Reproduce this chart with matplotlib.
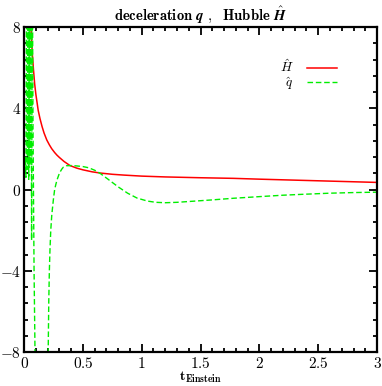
import matplotlib
matplotlib.use("Agg")
import matplotlib.pyplot as plt
from matplotlib.ticker import MultipleLocator, FixedLocator, FixedFormatter

plt.rcParams['mathtext.fontset'] = 'cm'
plt.rcParams['font.family'] = 'serif'
plt.rcParams['font.serif'] = ['DejaVu Serif']

# Hubble H-hat (red)
t_H = [0.055, 0.06, 0.07, 0.08, 0.09, 0.1, 0.11, 0.12, 0.135, 0.153, 0.17, 0.193,
       0.215, 0.235, 0.26, 0.28, 0.3, 0.34, 0.39, 0.45, 0.5, 0.58, 0.65, 0.75, 0.85,
       1.0, 1.2, 1.5, 1.78, 2.0, 2.25, 2.5, 2.75, 3.0]
H = [8.6, 7.8, 6.7, 5.9, 5.2, 4.7, 4.3, 3.9, 3.5, 3.1, 2.78, 2.44,
     2.2, 2.01, 1.82, 1.69, 1.58, 1.38, 1.18, 1.05, 0.97, 0.87, 0.81, 0.75, 0.71,
     0.66, 0.62, 0.58, 0.55, 0.51, 0.47, 0.43, 0.39, 0.35]

# deceleration q-hat (green, dashed)
t_q = [0.0, 0.008, 0.016, 0.022, 0.028, 0.034, 0.04, 0.046, 0.052, 0.058,
       0.064, 0.07, 0.076, 0.085, 0.095, 0.1, 0.13, 0.18, 0.2, 0.205, 0.21,
       0.215, 0.22, 0.227, 0.235, 0.24, 0.25, 0.26, 0.27, 0.28, 0.3, 0.32,
       0.334, 0.36, 0.4, 0.45, 0.5, 0.55, 0.6, 0.65, 0.72, 0.8, 0.88, 0.96,
       1.05, 1.12, 1.2, 1.3, 1.4, 1.6, 1.78, 2.0, 2.2, 2.35, 2.6, 2.8, 3.0]
q = [0.9, 1.6, 0.6, 12.0, 1.0, 12.0, 0.5, 12.0, 1.2, 12.0,
     -2.5, 12.0, 3.0, -4.0, -9.0, -14.0, -40.0, -40.0, -12.0, -8.0, -5.5,
     -4.0, -3.0, -2.0, -1.3, -1.0, -0.45, 0.0, 0.25, 0.47, 0.8, 1.0,
     1.1, 1.17, 1.18, 1.16, 1.13, 1.07, 0.95, 0.78, 0.48, 0.13, -0.18, -0.42,
     -0.57, -0.63, -0.65, -0.63, -0.59, -0.51, -0.43, -0.35, -0.28, -0.24, -0.18, -0.15, -0.13]

fig = plt.figure(figsize=(3.82, 3.86), dpi=100)
ax = fig.add_axes([0.063, 0.088, 0.924, 0.842])

ax.plot(t_H, H, color='#ff0000', linewidth=1.1, label=r'$\hat{H}$')
ax.plot(t_q, q, color='#00ee00', linewidth=1.0, linestyle=(0, (4, 2)), label=r'$\hat{q}$')

ax.set_xlim(0, 3)
ax.set_ylim(-8, 8)

xt = [0, 0.5, 1, 1.5, 2, 2.5, 3]
xl = [r'$0$', r'$0.5$', r'$1$', r'$1.5$', r'$2$', r'$2.5$', r'$3$']
yt = [-8, -4, 0, 4, 8]
yl = [r'$-8$', r'$-4$', r'$0$', r'$4$', r'$8$']
ax.xaxis.set_major_locator(FixedLocator(xt))
ax.xaxis.set_major_formatter(FixedFormatter(xl))
ax.yaxis.set_major_locator(FixedLocator(yt))
ax.yaxis.set_major_formatter(FixedFormatter(yl))
ax.xaxis.set_minor_locator(MultipleLocator(0.1))
ax.yaxis.set_minor_locator(MultipleLocator(0.8))

ax.tick_params(which='both', direction='in', top=True, right=True, width=1.3,
               labelsize=11, color='black')
ax.tick_params(which='major', length=6, pad=3)
ax.tick_params(which='minor', length=3)
ax.tick_params(axis='y', which='major', pad=2)
for s in ax.spines.values():
    s.set_linewidth(1.6)

ax.set_title(r'$\mathbf{deceleration}\ \mathbfit{q}\ ,\ \ \mathbf{Hubble}\ \hat{\mathbfit{H}}$',
             fontsize=10.5, pad=5)
ax.set_xlabel(r'$\mathbf{t}_{\mathbf{Einstein}}$', fontsize=10, labelpad=-1)

ax.legend(loc='upper right', bbox_to_anchor=(0.92, 0.94), frameon=False,
          markerfirst=False, handlelength=2.3, fontsize=9.5, labelspacing=0.0,
          handletextpad=1.0)

fig.savefig('out.png', dpi=100)
